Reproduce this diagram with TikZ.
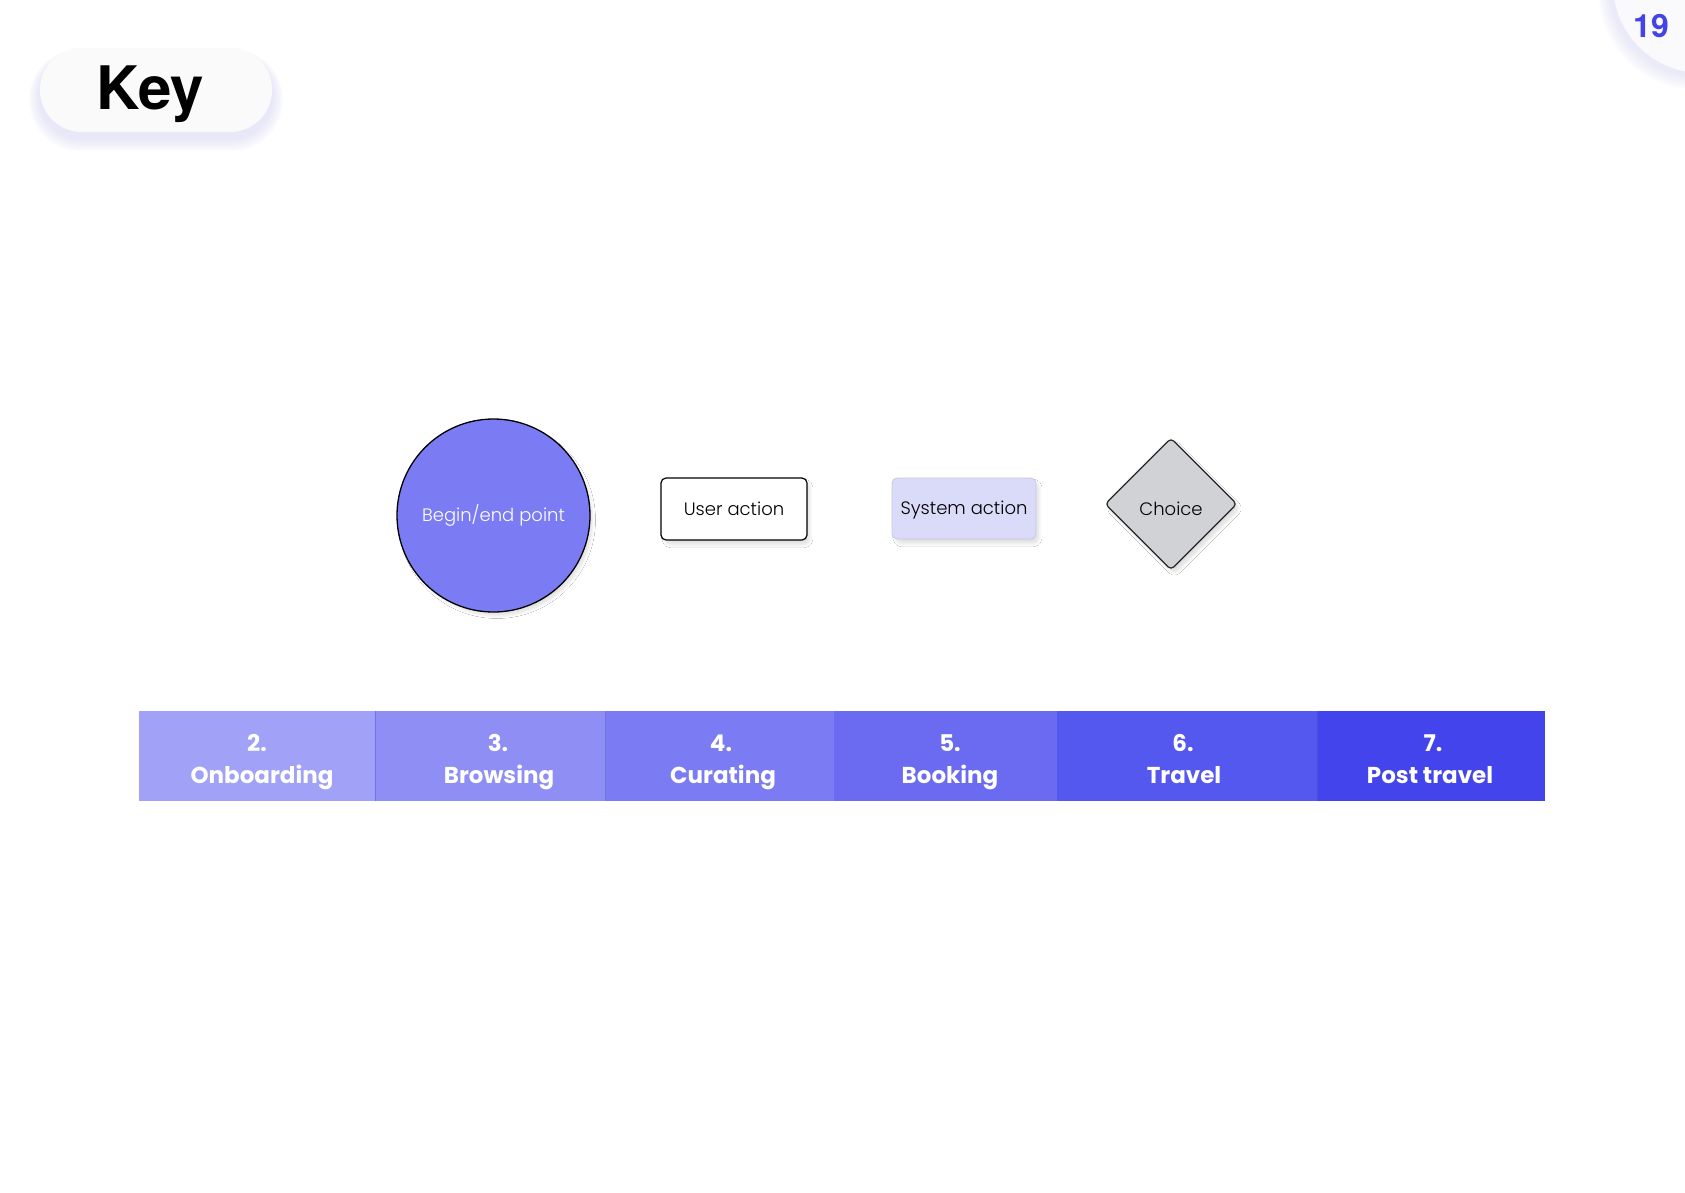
\documentclass[tikz,border=0pt]{standalone}
\usepackage{fontspec}
\setmainfont{Poppins}
\newfontfamily\headfont{TeX Gyre Heros}
\newfontfamily\lightfont{Poppins Light}
\usetikzlibrary{shapes.geometric,shadows.blur}

\definecolor{phasetwo}{HTML}{A1A1F7}
\definecolor{phasethree}{HTML}{8E8EF4}
\definecolor{phasefour}{HTML}{7B7CF3}
\definecolor{phasefive}{HTML}{6A6BF0}
\definecolor{phasesix}{HTML}{5558EE}
\definecolor{phaseseven}{HTML}{4444EC}
\definecolor{phaseline}{HTML}{7474E6}
\definecolor{beginfill}{HTML}{7B7CF3}
\definecolor{sysfill}{HTML}{DADAF9}
\definecolor{sysborder}{HTML}{C9C9E2}
\definecolor{choicefill}{HTML}{D1D2D6}
\definecolor{pagenum}{HTML}{4343E6}
\definecolor{pillfill}{HTML}{FAFAFA}
\definecolor{tabfill}{HTML}{FAFAFD}
\definecolor{glow}{HTML}{D4D4F8}

\tikzset{
  softshadow/.style={blur shadow={shadow xshift=3.5pt, shadow yshift=-4.5pt,
      shadow scale=0.98, shadow blur radius=4pt, shadow blur steps=20,
      shadow opacity=16}},
  shapetext/.style={font=\lightfont\fontsize{18}{22}\selectfont,
      text height=12.6pt, text depth=0pt},
  beginpt/.style={circle, draw=black, line width=1.3pt, fill=beginfill,
      minimum size=193pt, inner sep=0pt, text=white, softshadow, shapetext},
  useract/.style={rectangle, rounded corners=5pt, draw=black, line width=1.2pt,
      fill=white, minimum width=146pt, minimum height=62pt, inner sep=0pt,
      softshadow, shapetext},
  sysact/.style={rectangle, rounded corners=5pt, draw=sysborder, line width=0.8pt,
      fill=sysfill, minimum width=144pt, minimum height=61pt, inner sep=0pt,
      softshadow, shapetext},
  choice/.style={diamond, aspect=1, rounded corners=4pt, draw=black!85,
      line width=1.2pt, fill=choicefill, minimum width=132pt, minimum height=132pt,
      inner sep=0pt, softshadow, shapetext, text height=25pt, text depth=2pt},
  phase/.style={rectangle, anchor=north west, minimum height=90pt, inner sep=0pt,
      outer sep=0pt},
  phasenum/.style={anchor=base, text=white,
      font=\bfseries\fontsize{23}{28}\selectfont},
  phasename/.style={anchor=base, text=white,
      font=\bfseries\fontsize{23}{28}\selectfont},
}

\begin{document}
\begin{tikzpicture}[x=1pt,y=-1pt]
\useasboundingbox[fill=white] (0,0) rectangle (1685,1192);

% page number tab in the top right corner
\foreach \i in {1,...,9}
  \fill[glow, opacity=0.06] ({1700-\i*0.4},{-13+\i*0.5}) circle ({88+\i*1.1});
\fill[tabfill] (1702,-16) circle (89);
\node[anchor=base, text=pagenum, font=\headfont\bfseries\fontsize{32}{32}\selectfont]
  (pagenum) at (1651,37) {19};

% "Key" title pill
\foreach \i in {1,...,10}
  \fill[glow, opacity=0.06, rounded corners={42+0.9*\i}]
    ({40-\i*1.1},{48-\i*0.5+6}) rectangle ({272+\i*1.1},{132+\i*1.3+6});
\node[rectangle, rounded corners=42pt, fill=pillfill, minimum width=232pt,
      minimum height=84pt, inner sep=0pt] (keypill) at (156,90) {};
\node[anchor=base, font=\headfont\bfseries\fontsize{60}{60}\selectfont]
  (keylabel) at (150,109) {Key};

% legend shapes
\node[beginpt] (begin)  at (493.5,515.5) {Begin/end point};
\node[useract] (user)   at (734,509)     {User action};
\node[sysact]  (system) at (964,508.5)   {System action};
\node[choice]  (choice) at (1171,504)    {Choice};

% phase band
\node[phase, fill=phasetwo,   minimum width=236pt] (ptwo)   at (139,711)  {};
\node[phase, fill=phasethree, minimum width=230pt] (pthree) at (375,711)  {};
\node[phase, fill=phasefour,  minimum width=229pt] (pfour)  at (605,711)  {};
\node[phase, fill=phasefive,  minimum width=223pt] (pfive)  at (834,711)  {};
\node[phase, fill=phasesix,   minimum width=260pt] (psix)   at (1057,711) {};
\node[phase, fill=phaseseven, minimum width=228pt] (pseven) at (1317,711) {};
\draw[phaseline, line width=0.8pt] (pthree.north west) -- (pthree.south west);
\draw[phaseline, line width=0.8pt] (pfour.north west) -- (pfour.south west);
\draw[phasesix!90!black, line width=0.6pt] (pseven.north west) -- (pseven.south west);

\node[phasenum]  (ntwo)   at (257,751)  {2.};
\node[phasename] (ltwo)   at (262,783)  {Onboarding};
\node[phasenum]  (nthree) at (498,751)  {3.};
\node[phasename] (lthree) at (499,783)  {Browsing};
\node[phasenum]  (nfour)  at (721,751)  {4.};
\node[phasename] (lfour)  at (723,783)  {Curating};
\node[phasenum]  (nfive)  at (950,751)  {5.};
\node[phasename] (lfive)  at (950,783)  {Booking};
\node[phasenum]  (nsix)   at (1183,751) {6.};
\node[phasename] (lsix)   at (1184,783) {Travel};
\node[phasenum]  (nseven) at (1433,751) {7.};
\node[phasename] (lseven) at (1430,783) {Post travel};
\end{tikzpicture}
\end{document}
